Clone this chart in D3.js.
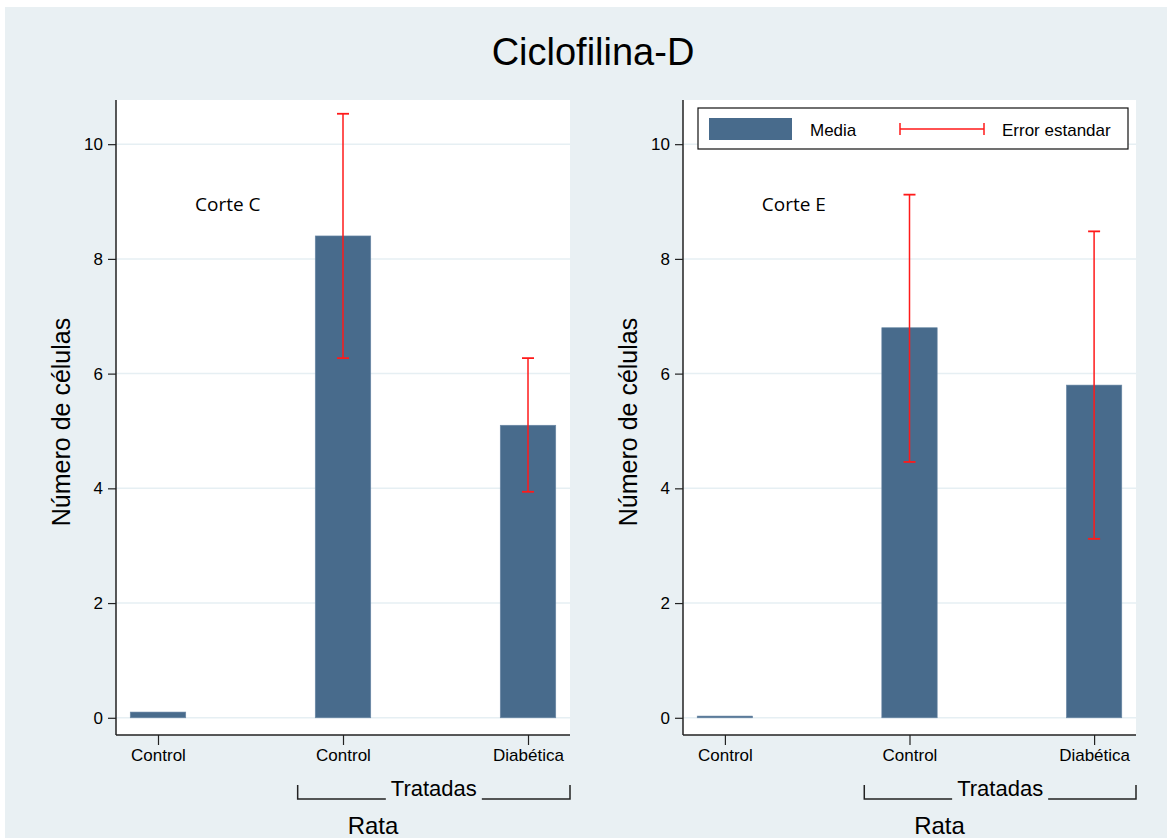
<!DOCTYPE html>
<html>
<head>
<meta charset="utf-8">
<script src="https://cdn.jsdelivr.net/npm/d3@7"></script>
<style>
	body { margin: 0; background: #fff; }
	text { font-family: 'Liberation Sans', Arial, sans-serif; fill: #000; }
</style>
</head>
<body>
<div id="chart"></div>
<script>
// data
const categories = ['Control', 'Control', 'Diabética'];
const yTicks = [0, 2, 4, 6, 8, 10];
const panelLabels = ['Corte C', 'Corte E'];
const mediaC = [0.1, 8.4, 5.1];
const errLowC = [null, 6.27, 3.94];
const errHighC = [null, 10.53, 6.27];
const mediaE = [0.03, 6.8, 5.8];
const errLowE = [null, 4.46, 3.12];
const errHighE = [null, 9.12, 8.48];
const chartTitle = 'Ciclofilina-D';
const groupLabel = 'Tratadas';
const xTitle = 'Rata';
const yTitle = 'Número de células';
const legendLabels = ['Media', 'Error estandar'];

const barColor = '#486b8c';
const errColor = '#ff1a1a';
const gridColor = '#e6eff3';
const bgColor = '#e9f0f3';

const W = 1167, H = 838;

const svg = d3
	.select('#chart')
	.append('svg')
	.attr('width', W)
	.attr('height', H);

// outer background
svg.append('rect')
	.attr('x', 5)
	.attr('y', 7)
	.attr('width', W - 5)
	.attr('height', H - 7)
	.attr('fill', bgColor);

svg.append('text')
	.attr('x', 593)
	.attr('y', 65)
	.attr('text-anchor', 'middle')
	.style('font-size', '38px')
	.text(chartTitle);

const plotTop = 100, plotBottom = 735;
const y = d3.scaleLinear().domain([-0.3, 10.77]).range([plotBottom, plotTop]);

function drawPanel(left, right, media, lo, hi, label) {
	const x = d3.scaleLinear().domain([-0.227, 2.227]).range([left, right]);
	const g = svg.append('g');
	const data = categories.map((c, i) => ({ c, i, m: media[i], lo: lo[i], hi: hi[i] }));

	// plot area
	g.append('rect')
		.attr('x', left)
		.attr('y', plotTop)
		.attr('width', right - left)
		.attr('height', plotBottom - plotTop)
		.attr('fill', '#fff');

	// grid
	g.selectAll('.grid')
		.data(yTicks)
		.enter()
		.append('line')
		.attr('x1', left)
		.attr('x2', right)
		.attr('y1', (d) => y(d))
		.attr('y2', (d) => y(d))
		.attr('stroke', gridColor)
		.attr('stroke-width', 1.5);

	// bars
	const bw = x(0.15) - x(-0.15);
	g.selectAll('.bar')
		.data(data)
		.enter()
		.append('rect')
		.attr('x', (d) => x(d.i) - bw / 2)
		.attr('y', (d) => y(d.m))
		.attr('width', bw)
		.attr('height', (d) => Math.max(1.5, y(0) - y(d.m)))
		.attr('fill', barColor)
		.attr('stroke', '#6b89a6')
		.attr('stroke-width', 0.6);

	// error bars
	const eb = data.filter((d) => d.lo != null);
	g.selectAll('.err')
		.data(eb)
		.enter()
		.append('line')
		.attr('x1', (d) => x(d.i))
		.attr('x2', (d) => x(d.i))
		.attr('y1', (d) => y(d.lo))
		.attr('y2', (d) => y(d.hi))
		.attr('stroke', errColor)
		.attr('stroke-width', 1.5);
	['lo', 'hi'].forEach((k) => {
		g.selectAll('.cap' + k)
			.data(eb)
			.enter()
			.append('line')
			.attr('x1', (d) => x(d.i) - 6)
			.attr('x2', (d) => x(d.i) + 6)
			.attr('y1', (d) => y(d[k]))
			.attr('y2', (d) => y(d[k]))
			.attr('stroke', errColor)
			.attr('stroke-width', 1.8);
	});

	// axes
	const yAxis = g.append('g')
		.attr('transform', `translate(${left},0)`)
		.call(d3.axisLeft(y).tickValues(yTicks).tickSize(8).tickPadding(5));
	yAxis.select('.domain').attr('d', `M0,${plotTop}V${plotBottom}`).attr('stroke', '#222').attr('stroke-width', 1.5);
	yAxis.selectAll('.tick line').attr('stroke', '#222').attr('stroke-width', 1.2);
	yAxis.selectAll('.tick text').style('font-size', '17px').attr('font-family', null);

	const xAxis = g.append('g')
		.attr('transform', `translate(0,${plotBottom})`)
		.call(d3.axisBottom(x).tickValues([0, 1, 2]).tickFormat((i) => categories[i]).tickSize(10).tickPadding(4));
	xAxis.select('.domain').attr('d', `M${left},0H${right}`).attr('stroke', '#222').attr('stroke-width', 1.5);
	xAxis.selectAll('.tick line').attr('stroke', '#222').attr('stroke-width', 1.2);
	xAxis.selectAll('.tick text').style('font-size', '17px').attr('font-family', null);

	// panel label
	g.append('text')
		.attr('x', x(0.2))
		.attr('y', y(8.95))
		.attr('dy', '0.35em')
		.style('font-family', "'Open Sans', sans-serif")
		.style('font-size', '19px')
		.text(label);

	// group bracket
	const bl = x(0.755), br = right, by = 799;
	const mid = (bl + br) / 2;
	g.append('path')
		.attr('d', `M${bl},785V${by}H${mid - 48}M${mid + 48},${by}H${br}V785`)
		.attr('fill', 'none')
		.attr('stroke', '#222')
		.attr('stroke-width', 1.5);
	g.append('text')
		.attr('x', mid)
		.attr('y', 796)
		.attr('text-anchor', 'middle')
		.style('font-size', '22px')
		.text(groupLabel);

	// titles
	g.append('text')
		.attr('x', (left + right) / 2 + 30)
		.attr('y', 834)
		.attr('text-anchor', 'middle')
		.style('font-size', '24px')
		.text(xTitle);
	g.append('text')
		.attr('transform', `translate(${left - 46},422) rotate(-90)`)
		.attr('text-anchor', 'middle')
		.style('font-size', '25px')
		.text(yTitle);
}

drawPanel(116, 570, mediaC, errLowC, errHighC, panelLabels[0]);
drawPanel(683, 1136, mediaE, errLowE, errHighE, panelLabels[1]);

// legend
const lg = svg.append('g');
lg.append('rect')
	.attr('x', 698).attr('y', 108)
	.attr('width', 430).attr('height', 41)
	.attr('fill', '#fff')
	.attr('stroke', '#111')
	.attr('stroke-width', 1.2);
lg.append('rect')
	.attr('x', 709).attr('y', 118)
	.attr('width', 83).attr('height', 22)
	.attr('fill', barColor);
lg.append('text')
	.attr('x', 810).attr('y', 136)
	.style('font-size', '17px')
	.text(legendLabels[0]);
lg.append('path')
	.attr('d', 'M900,123V135M900,129H984M984,123V135')
	.attr('fill', 'none')
	.attr('stroke', errColor)
	.attr('stroke-width', 1.5);
lg.append('text')
	.attr('x', 1002).attr('y', 136)
	.style('font-size', '17px')
	.text(legendLabels[1]);
</script>
</body>
</html>
